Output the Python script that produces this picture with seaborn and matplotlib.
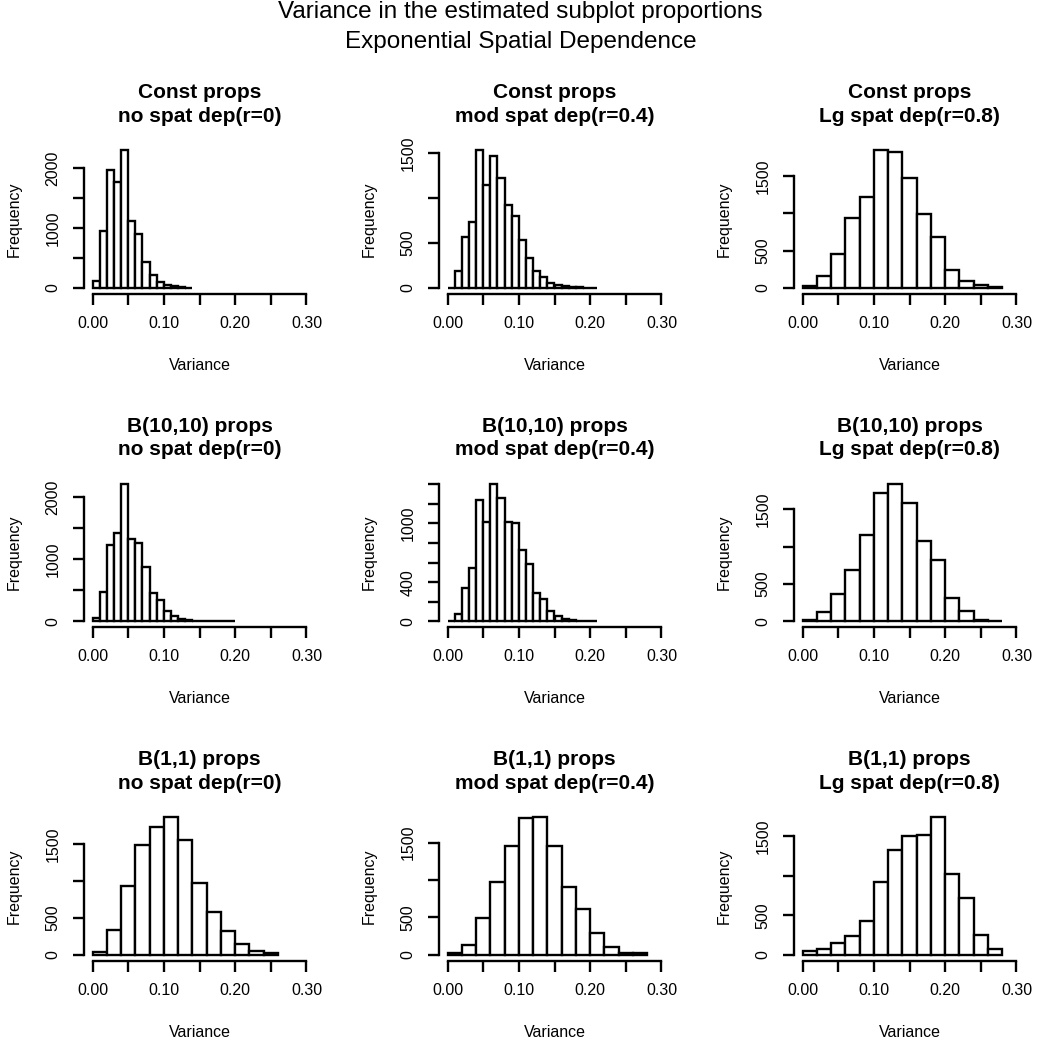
import numpy as np
import pandas as pd
import matplotlib
matplotlib.use("Agg")
import matplotlib.pyplot as plt
import seaborn as sns

# ---------------- data ----------------
main_title = "Variance in the estimated subplot proportions\nExponential Spatial Dependence"
prop_labels = ["Const props", "B(10,10) props", "B(1,1) props"]
dep_labels = ["no spat dep(r=0)", "mod spat dep(r=0.4)", "Lg spat dep(r=0.8)"]
x_label = "Variance"
y_label = "Frequency"

x_ticks = [0.00, 0.05, 0.10, 0.15, 0.20, 0.25, 0.30]
x_ticklabels = ["0.00", "", "0.10", "", "0.20", "", "0.30"]

# bin widths (histogram breaks start at 0)
bw_const_r0, bw_const_r4, bw_const_r8 = 0.01, 0.01, 0.02
bw_b1010_r0, bw_b1010_r4, bw_b1010_r8 = 0.01, 0.01, 0.02
bw_b11_r0, bw_b11_r4, bw_b11_r8 = 0.02, 0.02, 0.02

# frequencies per bin
counts_const_r0 = [120, 950, 1960, 1760, 2300, 1110, 900, 430, 210, 95, 55, 33, 15, 6]
counts_const_r4 = [5, 185, 563, 740, 1537, 1148, 1470, 1230, 926, 804, 537, 333, 185, 122,
                   56, 37, 26, 11, 7, 4, 3]
counts_const_r8 = [31, 154, 454, 940, 1213, 1844, 1817, 1465, 993, 675, 243, 88, 35, 13]
counts_b1010_r0 = [54, 478, 1228, 1429, 2217, 1332, 1266, 870, 451, 342, 168, 82, 38, 20,
                   12, 8, 5, 4, 3, 2]
counts_b1010_r4 = [10, 79, 338, 545, 1234, 1010, 1407, 1259, 1017, 1000, 724, 586, 286, 234,
                   103, 55, 28, 14, 8, 5, 3]
counts_b1010_r8 = [23, 126, 370, 691, 1152, 1717, 1844, 1590, 1071, 827, 316, 136, 14, 8]
counts_b11_r0 = [36, 336, 940, 1487, 1737, 1867, 1558, 972, 582, 327, 148, 58, 31]
counts_b11_r4 = [31, 132, 494, 979, 1456, 1822, 1840, 1456, 904, 609, 296, 101, 31, 22]
counts_b11_r8 = [50, 75, 154, 238, 425, 925, 1321, 1500, 1512, 1737, 1021, 721, 250, 75]

# y-axis ticks and which carry labels
yticks_const_r0 = [0, 500, 1000, 1500, 2000]; ylab_const_r0 = ["0", "", "1000", "", "2000"]
yticks_const_r4 = [0, 500, 1000, 1500];       ylab_const_r4 = ["0", "500", "", "1500"]
yticks_const_r8 = [0, 500, 1000, 1500];       ylab_const_r8 = ["0", "500", "", "1500"]
yticks_b1010_r0 = [0, 500, 1000, 1500, 2000]; ylab_b1010_r0 = ["0", "", "1000", "", "2000"]
yticks_b1010_r4 = [0, 200, 400, 600, 800, 1000, 1200, 1400]
ylab_b1010_r4 = ["0", "", "400", "", "", "1000", "", ""]
yticks_b1010_r8 = [0, 500, 1000, 1500];       ylab_b1010_r8 = ["0", "500", "", "1500"]
yticks_b11_r0 = [0, 500, 1000, 1500];         ylab_b11_r0 = ["0", "500", "", "1500"]
yticks_b11_r4 = [0, 500, 1000, 1500];         ylab_b11_r4 = ["0", "500", "", "1500"]
yticks_b11_r8 = [0, 500, 1000, 1500];         ylab_b11_r8 = ["0", "500", "", "1500"]

panels = [
    [(bw_const_r0, counts_const_r0, yticks_const_r0, ylab_const_r0),
     (bw_const_r4, counts_const_r4, yticks_const_r4, ylab_const_r4),
     (bw_const_r8, counts_const_r8, yticks_const_r8, ylab_const_r8)],
    [(bw_b1010_r0, counts_b1010_r0, yticks_b1010_r0, ylab_b1010_r0),
     (bw_b1010_r4, counts_b1010_r4, yticks_b1010_r4, ylab_b1010_r4),
     (bw_b1010_r8, counts_b1010_r8, yticks_b1010_r8, ylab_b1010_r8)],
    [(bw_b11_r0, counts_b11_r0, yticks_b11_r0, ylab_b11_r0),
     (bw_b11_r4, counts_b11_r4, yticks_b11_r4, ylab_b11_r4),
     (bw_b11_r8, counts_b11_r8, yticks_b11_r8, ylab_b11_r8)],
]

# ---------------- style ----------------
sns.set_style("white")
plt.rcParams["font.family"] = ["Liberation Sans", "DejaVu Sans"]
plt.rcParams["text.color"] = "black"
plt.rcParams["axes.labelcolor"] = "black"
plt.rcParams["xtick.color"] = "black"
plt.rcParams["ytick.color"] = "black"

W, H = 1041, 1043
fig = plt.figure(figsize=(W / 100, H / 100), dpi=100)

LW = 1.7
for r in range(3):
    for c in range(3):
        bw, counts, yt, yl = panels[r][c]
        n = len(counts)
        edges = [round(i * bw, 4) for i in range(n + 1)]
        centers = [(edges[i] + edges[i + 1]) / 2 for i in range(n)]
        df = pd.DataFrame({"var": centers, "freq": counts})

        left = (84 + 355 * c) / W
        bottom = 1 - (293.5 + 333.5 * r) / H
        ax = fig.add_axes([left, bottom, 231 / W, 149 / H])

        sns.histplot(data=df, x="var", weights="freq", bins=edges, ax=ax,
                     stat="count", color="white", edgecolor="black",
                     linewidth=LW, alpha=1.0)

        ymax = max(counts)
        ax.set_xlim(-0.012, 0.312)
        ax.set_ylim(-0.04 * ymax, 1.04 * ymax)

        ax.set_xticks(x_ticks)
        ax.set_xticklabels(x_ticklabels, fontsize=11.5)
        ax.set_yticks(yt)
        ax.set_yticklabels(yl, fontsize=11.5, rotation=90, va="center")

        for s in ["top", "right"]:
            ax.spines[s].set_visible(False)
        ax.spines["left"].set_bounds(0, yt[-1])
        ax.spines["bottom"].set_bounds(0, 0.30)
        for s in ["left", "bottom"]:
            ax.spines[s].set_linewidth(LW)
            ax.spines[s].set_color("black")
        ax.tick_params(axis="both", which="major", direction="out", length=8,
                       width=LW, color="black", labelcolor="black",
                       bottom=True, left=True, top=False, right=False)
        ax.tick_params(axis="x", pad=8)
        ax.tick_params(axis="y", pad=9)

        ax.set_xlabel(x_label, fontsize=11.5, color="black")
        ax.xaxis.set_label_coords(0.5, -0.43)
        ax.xaxis.label.set_va("top")
        ax.set_ylabel(y_label, fontsize=11.5, color="black")
        ax.yaxis.set_label_coords(-0.27, 0.5)

        ax.set_title(prop_labels[r] + "\n" + dep_labels[c], fontsize=15,
                     fontweight="bold", pad=16.5, linespacing=1.3, color="black")
        ax.grid(False)

fig.text(0.5, 0.999, main_title, ha="center", va="top", fontsize=17.5,
         linespacing=1.45, color="black")

fig.savefig("out.png", dpi=100, facecolor="white")
